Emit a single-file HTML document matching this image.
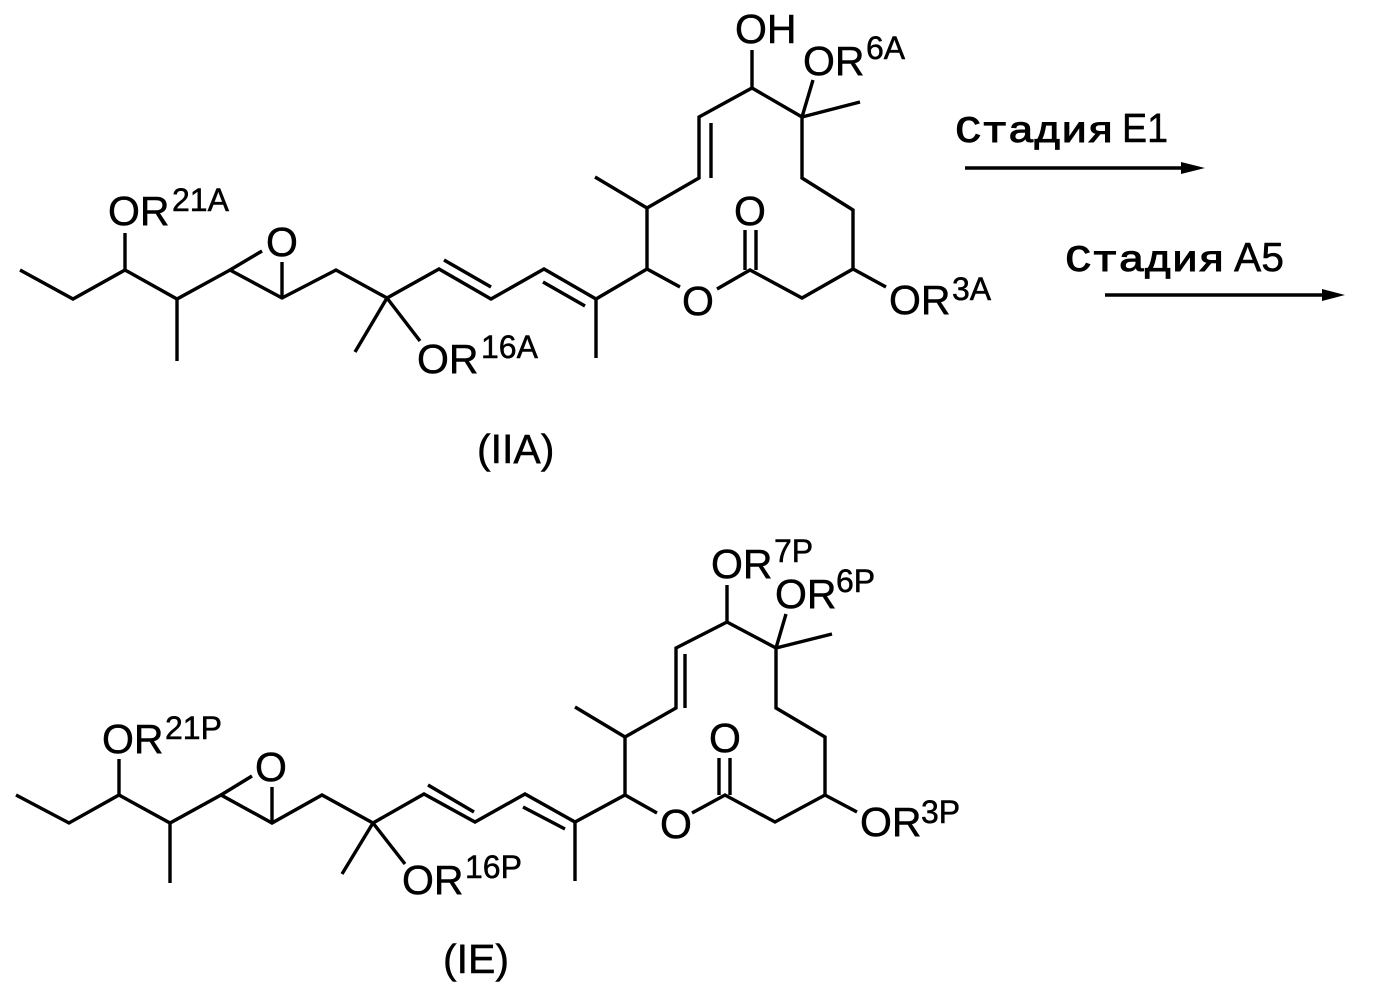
<!DOCTYPE html>
<html>
<head>
<meta charset="utf-8">
<style>
html,body{margin:0;padding:0;background:#fff;}
svg{display:block;}
text{font-family:"Liberation Sans",sans-serif;fill:#000;stroke:#000;stroke-width:.5px;}
.m{font-size:41px;}
.s{font-size:32px;}
.c{font-family:"Liberation Mono",monospace;font-size:37px;stroke-width:1px;}
</style>
</head>
<body>
<svg width="1375" height="989" viewBox="0 0 1375 989" xmlns="http://www.w3.org/2000/svg">
<g fill="none" stroke="#000" stroke-width="3.4" stroke-linejoin="miter" stroke-linecap="butt">
<!-- top molecule -->
<path d="M20 270L73 299L125 270L177 299L230 270L282 298L336 270L387 298L439 269L491 299L544 269L596 299L647 269L680 287"/>
<path d="M125 270V233M177 299V361M230 270L262 251M282 298V262M387 298L355 352M387 298L420 341"/>
<path d="M444 260L491 287M543 282L585 306M596 299V358"/>
<path d="M717 289L750 270L802 298L853 269L886 287"/>
<path d="M745 270V230M756 270V230"/>
<path d="M853 269V210L802 178V117L752 88L699 117V178L647 208V269"/>
<path d="M647 208L595 177M711 123V178M752 88V50M802 117L813 80M802 117L860 102"/>
<!-- bottom molecule -->
<path d="M16 795L69 823L119 795L170 823L221 795L272 823L322 795L373 823L424 794L475 822L525 794L575 822L625 795L657 813"/>
<path d="M119 795V759M170 823V883M221 795L252 776M272 823V787M373 823L342 874M373 823L405 864"/>
<path d="M428 785L474 812M523 807L565 829M575 822V881"/>
<path d="M692 813L725 795L775 822L825 795L857 812"/>
<path d="M719 795V758M730 795V758"/>
<path d="M825 795V737L776 708V648L727 622L676 648V708L625 737V795"/>
<path d="M625 737L575 707M685 654V708M727 622V585M776 648L786 614M776 648L832 634"/>
<!-- arrows -->
<path d="M965 168H1190M1105 295H1330"/>
</g>
<path d="M1181 162L1205 168L1181 174Z M1322 289L1345 295L1322 301Z" fill="#000"/>

<text class="m" x="108" y="225">OR</text><text class="s" x="172" y="211">21A</text>
<text class="m" x="266" y="256">O</text>
<text class="m" x="417" y="373">OR</text><text class="s" x="481" y="358">16A</text>
<text class="m" x="682" y="315">O</text>
<text class="m" x="734" y="225">O</text>
<text class="m" x="889" y="314">OR</text><text class="s" x="952" y="300">3A</text>
<text class="m" x="735" y="43">OH</text>
<text class="m" x="803" y="75">OR</text><text class="s" x="866" y="59">6A</text>

<text class="c" x="955" y="142" textLength="159" lengthAdjust="spacingAndGlyphs">Стадия</text>
<text class="m" x="1122" y="142" textLength="46" lengthAdjust="spacingAndGlyphs">E1</text>
<text class="c" x="1065" y="271" textLength="160" lengthAdjust="spacingAndGlyphs">Стадия</text>
<text class="m" x="1234" y="271" textLength="50" lengthAdjust="spacingAndGlyphs">A5</text>

<text class="m" x="477" y="463">(IIA)</text>

<text class="m" x="102" y="753">OR</text><text class="s" x="165" y="739">21P</text>
<text class="m" x="255" y="781">O</text>
<text class="m" x="402" y="894">OR</text><text class="s" x="465" y="878">16P</text>
<text class="m" x="660" y="838">O</text>
<text class="m" x="709" y="752">O</text>
<text class="m" x="860" y="836">OR</text><text class="s" x="921" y="823">3P</text>
<text class="m" x="711" y="578">OR</text><text class="s" x="774" y="562">7P</text>
<text class="m" x="775" y="608">OR</text><text class="s" x="836" y="592">6P</text>

<text class="m" x="443" y="973">(IE)</text>
</svg>
</body>
</html>
